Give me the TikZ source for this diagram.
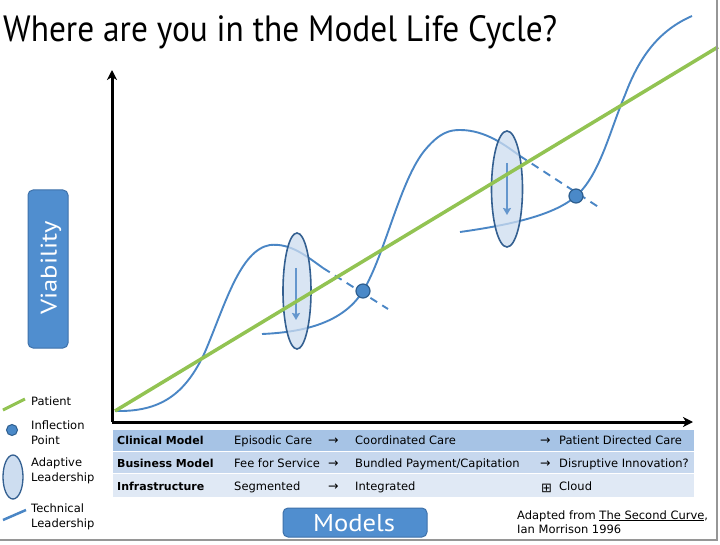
\documentclass[tikz,border=0pt]{standalone}
\usepackage{fontspec}
\setmainfont{DejaVu Sans}
\newfontfamily\gill{PT Sans}
\usetikzlibrary{arrows.meta,shapes.geometric}
\definecolor{techblue}{RGB}{74,134,197}
\definecolor{patgreen}{RGB}{146,195,82}
\definecolor{ellfill}{RGB}{205,221,240}
\definecolor{elldraw}{RGB}{52,96,145}
\definecolor{arrblue}{RGB}{100,150,205}
\definecolor{dotfill}{RGB}{74,137,200}
\definecolor{dotdraw}{RGB}{46,94,142}
\definecolor{boxfill}{RGB}{80,142,207}
\definecolor{boxdraw}{RGB}{62,113,170}
\definecolor{rowa}{RGB}{166,195,229}
\definecolor{rowb}{RGB}{199,216,238}
\definecolor{rowc}{RGB}{224,233,245}
\definecolor{framegray}{RGB}{150,150,150}
\tikzset{
  tech/.style={techblue, line width=1.9pt},
  techdash/.style={techblue, line width=1.9pt, dash pattern=on 8pt off 6pt},
  patient/.style={patgreen, line width=3.5pt},
  axisline/.style={black, line width=3pt, -{Stealth[length=10pt,width=10pt,inset=3pt]}},
  adaptive/.style={ellipse, draw=elldraw, line width=1.6pt, fill=ellfill, fill opacity=0.75, inner sep=0},
  downarrow/.style={arrblue, line width=2pt, -{Stealth[length=7pt,width=8pt,inset=1pt]}},
  inflect/.style={circle, draw=dotdraw, line width=1.2pt, fill=dotfill, minimum size=14pt, inner sep=0},
  bluebox/.style={draw=boxdraw, line width=1pt, fill=boxfill, rounded corners=5pt, inner sep=0},
  txt/.style={anchor=base west, inner sep=0, font=\fontsize{11.5pt}{13pt}\selectfont},
  arr/.style={anchor=base west, inner sep=0, font=\fontsize{12.5pt}{13pt}\selectfont},
  btxt/.style={anchor=base west, inner sep=0, font=\fontsize{11pt}{13pt}\selectfont\bfseries},
}
\begin{document}
\begin{tikzpicture}[x=1pt,y=-1pt]
\useasboundingbox (0,0) rectangle (720,545);
\fill[white] (0,0) rectangle (720,545);

% title
\node[anchor=base west, inner sep=0] (title) at (3,42)
  {\resizebox{554pt}{26pt}{\gill Where are you in the Model Life Cycle?}};

% axes
\coordinate (origin) at (112,422);
\coordinate (ytop) at (112,70);
\coordinate (xend) at (693,422);
\draw[axisline] (origin) -- (ytop);
\draw[axisline] (origin) -- (xend);

% technical leadership curves
\draw[tech] (115,411) .. controls (160,412) and (185,395) .. (205,352)
  .. controls (225,305) and (240,250) .. (270,245)
  .. controls (290,243) and (305,255) .. (323,268);
\coordinate (d1a) at (323,268);
\coordinate (d1b) at (388,309);
\draw[techdash] (d1a) -- (d1b);

\draw[tech] (262,334) .. controls (310,332) and (345,320) .. (363,291)
  .. controls (385,255) and (400,180) .. (425,150)
  .. controls (440,132) and (450,130) .. (460,130)
  .. controls (485,130) and (505,145) .. (520,156);
\coordinate (d2a) at (520,156);
\coordinate (d2b) at (600,208);
\draw[techdash] (d2a) -- (d2b);

\draw[tech] (460,232) .. controls (510,225) and (555,215) .. (576,196)
  .. controls (600,175) and (610,130) .. (625,95)
  .. controls (640,55) and (660,30) .. (692,16);

% adaptive leadership ellipses
\node[adaptive, minimum width=28pt, minimum height=116pt] (ad1) at (297,291) {};
\node[adaptive, minimum width=31pt, minimum height=116pt] (ad2) at (507,189) {};
\coordinate (a1s) at (296,268);
\coordinate (a1e) at (296,320);
\draw[downarrow] (a1s) -- (a1e);
\coordinate (a2s) at (507,163);
\coordinate (a2e) at (507,215);
\draw[downarrow] (a2s) -- (a2e);

% patient line
\coordinate (p0) at (115,411);
\coordinate (p1) at (718,47);
\draw[patient] (p0) -- (p1);

% inflection points
\node[inflect] (inf1) at (363,291) {};
\node[inflect] (inf2) at (576,196) {};

% Viability box
\node[bluebox, minimum width=40pt, minimum height=158pt] (via) at (48,269) {};
\node[rotate=90, inner sep=0, text=white] (vialbl) at (51,268)
  {\resizebox{93pt}{16pt}{\gill Viability}};

% Models box
\node[bluebox, minimum width=144pt, minimum height=29pt] (mod) at (355,522.5) {};
\node[inner sep=0, text=white, anchor=base] (modlbl) at (354,531)
  {\resizebox{82pt}{17pt}{\gill Models}};

% table
\fill[rowa] (113,430) rectangle (694,451);
\fill[rowb] (113,451) rectangle (694,473);
\fill[rowc] (113,473) rectangle (694,497);
\draw[white, line width=1pt] (113,451) -- (694,451);
\draw[white, line width=1pt] (113,473) -- (694,473);

\node[btxt] (r1a) at (117,444) {Clinical Model};
\node[txt] (r1b) at (234,444) {Episodic Care};
\node[arr] (r1c) at (328,444) {→};
\node[txt] (r1d) at (355,444) {Coordinated Care};
\node[arr] (r1e) at (540,444) {→};
\node[txt] (r1f) at (559,444) {Patient Directed Care};

\node[btxt] (r2a) at (117,467) {Business Model};
\node[txt] (r2b) at (234,467) {Fee for Service};
\node[arr] (r2c) at (328,467) {→};
\node[txt] (r2d) at (355,467) {Bundled Payment/Capitation};
\node[arr] (r2e) at (540,467) {→};
\node[txt] (r2f) at (559,467) {Disruptive Innovation?};

\node[btxt] (r3a) at (117,490) {Infrastructure};
\node[txt] (r3b) at (234,490) {Segmented};
\node[arr] (r3c) at (328,490) {→};
\node[txt] (r3d) at (355,490) {Integrated};
\node[anchor=base west, inner sep=0, font=\fontsize{13pt}{14pt}\selectfont] (r3e) at (541,492) {⊞};
\node[txt] (r3f) at (559,490) {Cloud};

% citation
\node[txt] (cit1) at (517,519) {Adapted from \underline{The Second Curve},};
\node[txt] (cit2) at (517,533) {Ian Morrison 1996};

% legend
\coordinate (lg0) at (3,410);
\coordinate (lg1) at (25,399);
\draw[patgreen, line width=3pt] (lg0) -- (lg1);
\node[txt] (lpat) at (31,405) {Patient};
\node[inflect, minimum size=11pt, line width=1pt] (ldot) at (12,430) {};
\node[txt] (linf1) at (31,429) {Inflection};
\node[txt] (linf2) at (31,444) {Point};
\node[adaptive, fill opacity=1, minimum width=20pt, minimum height=44pt, line width=1.3pt] (lell) at (13,477) {};
\node[txt] (lad1) at (31,466) {Adaptive};
\node[txt] (lad2) at (31,481) {Leadership};
\coordinate (lt0) at (3,520);
\coordinate (lt1) at (26,510);
\draw[techblue, line width=2.5pt] (lt0) -- (lt1);
\node[txt] (lte1) at (31,512) {Technical};
\node[txt] (lte2) at (31,527) {Leadership};

% slide frame shadow
\draw[framegray, line width=1.5pt] (717,0) -- (717,540) -- (0,540);
\end{tikzpicture}
\end{document}
